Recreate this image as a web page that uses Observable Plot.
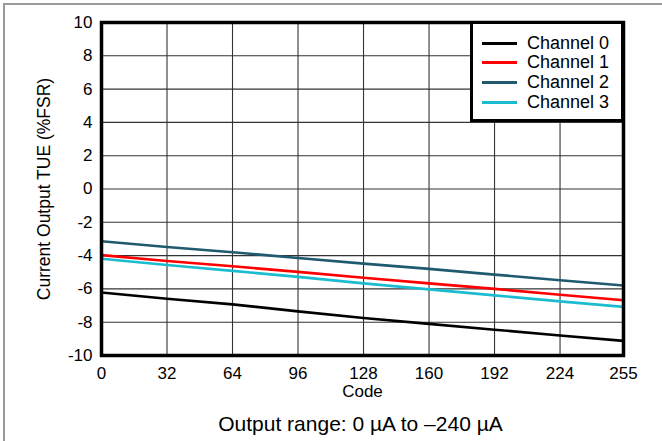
<!DOCTYPE html>
<html>
<head>
<meta charset="utf-8">
<script src="https://cdn.jsdelivr.net/npm/d3@7"></script>
<script src="https://cdn.jsdelivr.net/npm/@observablehq/plot@0.6"></script>
<style>
  html, body { margin: 0; padding: 0; background: #fff; overflow: hidden; }
  #wrap { position: relative; width: 662px; height: 441px; background: #fff; overflow: hidden; font-family: "Liberation Sans", Arial, sans-serif; color: #000; }
  #outer { position: absolute; left: 3px; top: 3px; width: 700px; height: 500px; border: 2px solid #9a9a9a; box-sizing: border-box; }
  #chart { position: absolute; left: 0; top: 0; }
  #legend { position: absolute; left: 470px; top: 21px; width: 154px; height: 101px; border: 3px solid #000; box-sizing: border-box; background: #fff; }
  .lg-line { position: absolute; left: 482px; width: 35px; height: 3px; }
  .lg-text { position: absolute; left: 527px; font-size: 18px; line-height: 20px; height: 20px; white-space: nowrap; }
  #caption { position: absolute; left: 0; width: 721px; top: 411px; height: 26px; line-height: 26px; font-size: 21px; text-align: center; white-space: nowrap; }
</style>
</head>
<body>
<div id="wrap">
  <div id="outer"></div>
  <div id="chart"></div>
  <div id="legend"></div>
  <div id="caption"></div>
</div>
<script>
// ---- data ----
const codes = [0, 32, 64, 96, 128, 160, 192, 224, 255];
const channels = ["Channel 0", "Channel 1", "Channel 2", "Channel 3"];
const ch0 = [-6.22, -6.59, -6.93, -7.35, -7.75, -8.10, -8.45, -8.80, -9.12];
const ch1 = [-3.97, -4.32, -4.64, -4.98, -5.33, -5.67, -6.00, -6.35, -6.68];
const ch2 = [-3.14, -3.48, -3.80, -4.14, -4.48, -4.80, -5.14, -5.48, -5.80];
const ch3 = [-4.19, -4.56, -4.92, -5.28, -5.67, -6.03, -6.39, -6.75, -7.08];
const channelColors = ["#000000", "#ff0000", "#1f5a6e", "#1cbcd0"];
const xTicks = [0, 32, 64, 96, 128, 160, 192, 224, 255];
const yTicks = [-10, -8, -6, -4, -2, 0, 2, 4, 6, 8, 10];
const xLabel = "Code";
const yLabel = "Current Output TUE (%FSR)";
const caption = "Output range: 0 µA to –240 µA";

const series = [ch0, ch1, ch2, ch3];
const rows = [];
series.forEach((vals, i) => vals.forEach((v, j) => rows.push({channel: channels[i], code: codes[j], value: v})));

const chart = Plot.plot({
  width: 662,
  height: 408,
  marginLeft: 101,
  marginRight: 39,
  marginTop: 22,
  marginBottom: 53,
  style: {fontFamily: "Liberation Sans, Arial, sans-serif", fontSize: "17px", background: "transparent", color: "#000", overflow: "visible"},
  x: {domain: [0, 255]},
  y: {domain: [-10, 10]},
  color: {domain: channels, range: channelColors},
  marks: [
    Plot.ruleX(xTicks.slice(1, -1), {stroke: "#333", strokeWidth: 1.1}),
    Plot.ruleY(yTicks.slice(1, -1), {stroke: "#333", strokeWidth: 1.1}),
    Plot.line(rows, {x: "code", y: "value", z: "channel", stroke: "channel", strokeWidth: 2.6}),
    Plot.frame({stroke: "#000", strokeWidth: 3.5}),
    Plot.axisX({ticks: xTicks, tickSize: 0, tickPadding: 11, fontSize: 17, tickFormat: d => String(d), label: null}),
    Plot.axisY({ticks: yTicks, tickSize: 0, tickPadding: 9, fontSize: 17, tickFormat: d => String(d), label: null}),
    Plot.text([xLabel], {frameAnchor: "bottom", dy: 41, fontSize: 17, text: d => d}),
    Plot.text([yLabel], {frameAnchor: "left", textAnchor: "middle", dx: -57, rotate: -90, fontSize: 17.5, text: d => d})
  ]
});
document.getElementById("chart").appendChild(chart);

// legend (HTML overlay inside the plot area)
const wrap = document.getElementById("wrap");
const legendY = [43, 62, 82, 102];
channels.forEach((name, i) => {
  const ln = document.createElement("div");
  ln.className = "lg-line";
  ln.style.top = (legendY[i] - 1.5) + "px";
  ln.style.background = channelColors[i];
  wrap.appendChild(ln);
  const tx = document.createElement("div");
  tx.className = "lg-text";
  tx.style.top = (legendY[i] - 10) + "px";
  tx.textContent = name;
  wrap.appendChild(tx);
});
document.getElementById("caption").textContent = caption;
</script>
</body>
</html>
